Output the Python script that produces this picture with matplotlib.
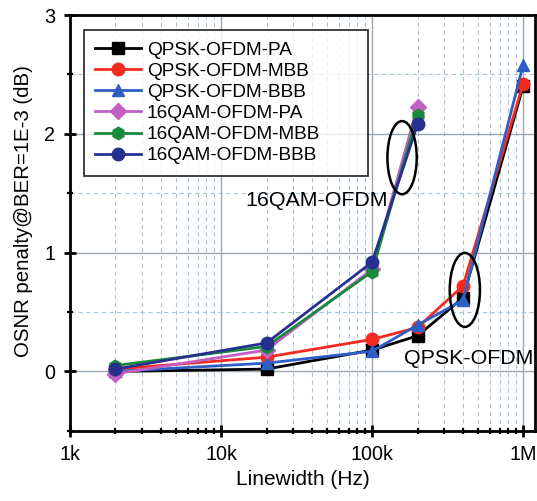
import matplotlib.pyplot as plt
from matplotlib.patches import Ellipse
from matplotlib.ticker import FixedLocator, NullFormatter

plt.rcParams["font.family"] = ["Liberation Sans", "DejaVu Sans"]

# linewidths (Hz)
lw_qpsk = [2e3, 2e4, 1e5, 2e5, 4e5, 1e6]
lw_16qam = [2e3, 2e4, 1e5, 2e5]

qpsk_pa = [0.0, 0.02, 0.18, 0.30, 0.62, 2.40]
qpsk_mbb = [0.02, 0.12, 0.27, 0.37, 0.72, 2.42]
qpsk_bbb = [0.0, 0.07, 0.17, 0.39, 0.60, 2.58]
qam_pa = [-0.02, 0.18, 0.86, 2.23]
qam_mbb = [0.05, 0.21, 0.84, 2.16]
qam_bbb = [0.02, 0.24, 0.92, 2.08]

series = [
    ("QPSK-OFDM-PA", lw_qpsk, qpsk_pa, "black", "s"),
    ("QPSK-OFDM-MBB", lw_qpsk, qpsk_mbb, "#f42a1e", "o"),
    ("QPSK-OFDM-BBB", lw_qpsk, qpsk_bbb, "#2f5fc6", "^"),
    ("16QAM-OFDM-PA", lw_16qam, qam_pa, "#c35fc3", "D"),
    ("16QAM-OFDM-MBB", lw_16qam, qam_mbb, "#178a3c", "h"),
    ("16QAM-OFDM-BBB", lw_16qam, qam_bbb, "#27308f", "o"),
]

fig = plt.figure(figsize=(5.37, 5.01), dpi=100)
ax = fig.add_axes([0.1304, 0.140, 0.866, 0.830])

for name, x, y, c, m in series:
    ms = 8 if m == "D" else 9
    ax.plot(x, y, color=c, marker=m, ms=ms, lw=2, label=name,
            markeredgecolor=c)

ax.set_xscale("log")
ax.set_xlim(1e3, 1.2e6)
ax.set_ylim(-0.5, 3)
ax.set_xticks([1e3, 1e4, 1e5, 1e6])
ax.set_xticklabels(["1k", "10k", "100k", "1M"])
ax.xaxis.set_minor_formatter(NullFormatter())
ax.set_yticks([0, 1, 2, 3])
ax.yaxis.set_minor_locator(FixedLocator([-0.5, 0.5, 1.5, 2.5]))

ax.grid(True, which="major", color="#9aa7b0", lw=1.0)
ax.grid(True, which="minor", color="#a9c4d6", lw=0.8, ls=(0, (4, 3)))
ax.set_axisbelow(True)

ax.tick_params(which="major", direction="inout", length=9, width=2,
               labelsize=14.2, pad=6)
ax.tick_params(which="minor", direction="inout", length=5, width=1.6)
for s in ax.spines.values():
    s.set_linewidth(2)

ax.set_xlabel("Linewidth (Hz)", fontsize=15)
ax.set_ylabel("OSNR penalty@BER=1E-3 (dB)", fontsize=14.7)
ax.yaxis.set_label_coords(-0.080, 0.528)

# ellipses drawn in axes-fraction coords
ax.add_patch(Ellipse((0.714, 0.657), 0.063, 0.176, transform=ax.transAxes,
                     fill=False, ec="black", lw=1.8, zorder=5))
ax.add_patch(Ellipse((0.849, 0.339), 0.065, 0.178, transform=ax.transAxes,
                     fill=False, ec="black", lw=1.8, zorder=5))
ax.text(0.684, 0.555, "16QAM-OFDM", fontsize=15.4, ha="right", va="center",
        transform=ax.transAxes)
ax.text(0.996, 0.175, "QPSK-OFDM", fontsize=15.4, ha="right", va="center",
        transform=ax.transAxes)

leg = ax.legend(loc="upper left", bbox_to_anchor=(0.030, 0.596, 0.611, 0.368),
                mode="expand", borderaxespad=0, fontsize=13.7,
                frameon=True, fancybox=False, edgecolor="black",
                handlelength=2.4, labelspacing=0.2, borderpad=0.6,
                handletextpad=0.3)
leg.get_frame().set_linewidth(1.3)

fig.savefig("out.png", dpi=100)
